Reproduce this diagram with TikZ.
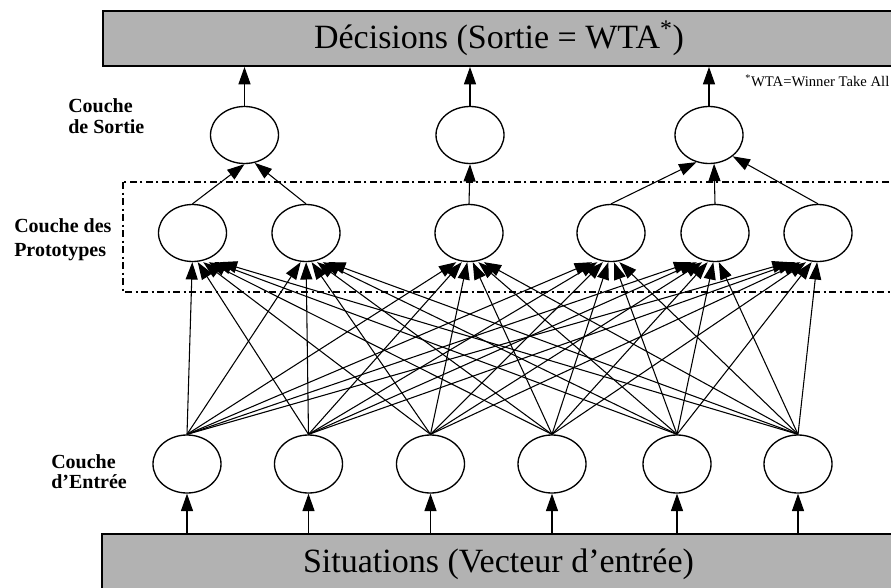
\documentclass[tikz,border=0pt]{standalone}
\usepackage{fontspec}
\setmainfont{Liberation Serif}
\usetikzlibrary{shapes.geometric,arrows.meta,calc}
\definecolor{barfill}{gray}{0.70}
\begin{document}
\begin{tikzpicture}[x=0.75pt,y=-0.75pt,
  neuron/.style={draw, line width=1pt, ellipse, minimum width=51pt, minimum height=42.75pt, inner sep=0pt},
  inneuron/.style={neuron, minimum height=43.5pt},
  bar/.style={draw, line width=1.4pt, fill=barfill, inner sep=0pt, font=\fontsize{25.5}{30}\selectfont},
  conn/.style={line width=0.8pt, -{Triangle[length=13pt,width=9pt]}},
  layerlabel/.style={font=\bfseries\fontsize{15}{18}\selectfont, anchor=base west, inner sep=0pt},
  protoframe/.style={line width=1.1pt, dash pattern=on 5.5pt off 2.5pt on 1.5pt off 2.5pt}
]
\useasboundingbox (0,0) rectangle (891,588);

% bars
\node[bar, minimum width=594pt, minimum height=41.25pt] (top) at (499,38.5) {Décisions (Sortie = WTA\textsuperscript{*})};
\node[bar, minimum width=594.75pt, minimum height=45pt] (bot) at (498.5,564) {Situations (Vecteur d’entrée)};

% footnote
\node[anchor=base west, inner sep=0pt, font=\fontsize{11}{13}\selectfont] (foot) at (745,87) {\textsuperscript{*}WTA=Winner Take All};

% prototype frame
\draw[protoframe] (123,182) rectangle (900,292);

% layer labels
\node[layerlabel] (ls1) at (68,113) {Couche};
\node[layerlabel] (ls2) at (68,134) {de Sortie};
\node[layerlabel] (lp1) at (14,232) {Couche des};
\node[layerlabel] (lp2) at (14,256) {Prototypes};
\node[layerlabel] (le1) at (51,468) {Couche};
\node[layerlabel] (le2) at (51,488) {d’Entrée};

% neurons
\foreach \n/\x in {1/187,2/308.5,3/430.5,4/552,5/677,6/798}
  \node[inneuron] (I\n) at (\x,464) {};
\foreach \n/\x in {1/192.5,2/306,3/469,4/611,5/715,6/818}
  \node[neuron] (P\n) at (\x,233) {};
\foreach \n/\x in {1/244.5,2/470,3/709}
  \node[neuron] (O\n) at (\x,135) {};

% input bar -> input neurons
\foreach \n in {1,...,6}
  \draw[conn] (I\n.south |- bot.north) -- (I\n.south);

% input -> prototypes (fully connected)
\foreach \i in {1,...,6}
  \foreach \j in {1,...,6}
    \draw[conn] (I\i.north) -- ($(P\j.south)!0.045!(P\j.south -| I\i.north)$);

% prototypes -> outputs
\draw[conn] (P1.north) -- (O1.south);
\draw[conn] (P2.north) -- (O1.290);
\draw[conn] (P3.north) -- (O2.south);
\draw[conn] (P4.north) -- (O3.245);
\draw[conn] (P5.north) -- (O3.280);
\draw[conn] (P6.north) -- (O3.318);

% outputs -> decision bar
\foreach \n in {1,2,3}
  \draw[conn] (O\n.north) -- (O\n.north |- top.south);
\end{tikzpicture}
\end{document}
